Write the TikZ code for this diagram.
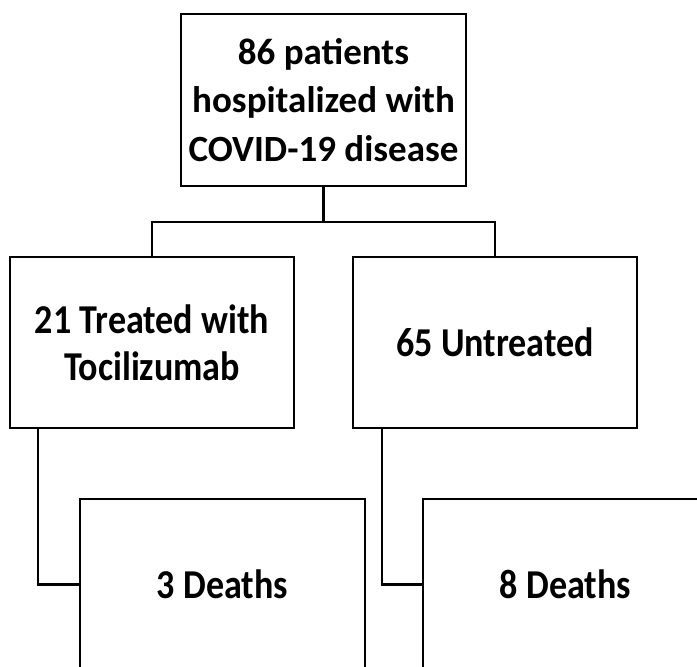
\documentclass[tikz,border=0pt]{standalone}
\usepackage{fontspec}
\setmainfont{Carlito}
\newfontfamily\topfont{Carlito}
\newfontfamily\narrowfont[FakeStretch=0.88]{Carlito}
\begin{document}
\begin{tikzpicture}[x=1pt,y=-1pt,
  box/.style={draw=black,line width=2.4pt,fill=white,rectangle,inner sep=0pt,align=center},
  lowbox/.style={box,minimum width=285pt,minimum height=171pt,font=\narrowfont\bfseries\fontsize{41}{47}\selectfont},
  conn/.style={draw=black,line width=2.4pt}]
\path[use as bounding box] (0,0) rectangle (697,667);
\clip (0,0) rectangle (697,667);
\node[box,minimum width=285pt,minimum height=172pt,font=\topfont\bfseries\fontsize{37}{48.5}\selectfont] (top) at (323.5,100) {86 patients\\hospitalized with\\COVID-19 disease};
\node[lowbox,minimum width=284pt] (left) at (152,342.5) {21 Treated with\\Tocilizumab};
\node[lowbox,minimum width=284pt] (right) at (495,342.5) {65 Untreated};
\node[lowbox] (bl) at (222.5,584.5) {3 Deaths};
\node[lowbox] (br) at (565.5,584.5) {8 Deaths};
\coordinate (split) at (323.5,222);
\coordinate (lbend) at (38,584.5);
\coordinate (rbend) at (382,584.5);
\draw[conn] (top.south) -- (split);
\draw[conn] (split) -| (left.north);
\draw[conn] (split) -| (right.north);
\draw[conn] (left.south -| lbend) -- (lbend) -- (bl.west);
\draw[conn] (right.south -| rbend) -- (rbend) -- (br.west);
\end{tikzpicture}
\end{document}
